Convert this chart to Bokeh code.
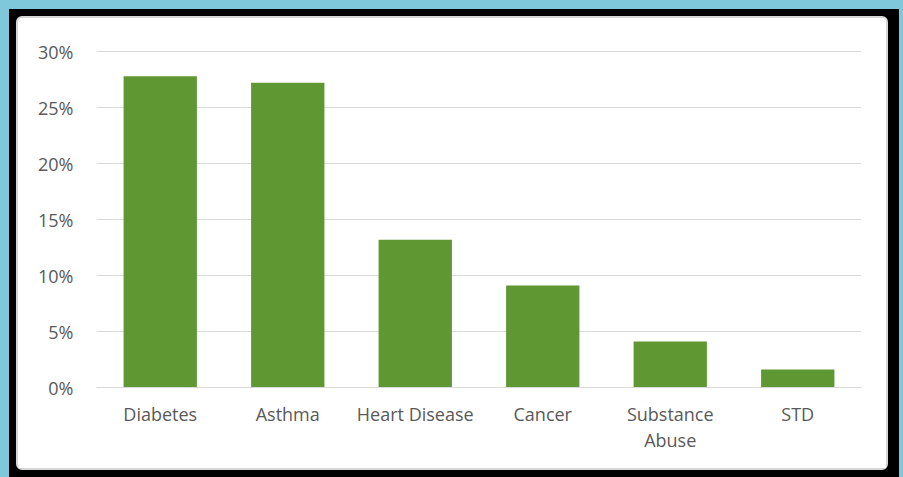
from bokeh.plotting import figure
from bokeh.layouts import column
from bokeh.models import FactorRange, Range1d, FixedTicker, NumeralTickFormatter, ColumnDataSource
from bokeh.embed import file_html
from bokeh.resources import INLINE

conditions = ["Diabetes", "Asthma", "Heart Disease", "Cancer", "Substance\nAbuse", "STD"]
shares = [0.278, 0.272, 0.132, 0.091, 0.041, 0.016]
y_ticks = [0, 0.05, 0.10, 0.15, 0.20, 0.25, 0.30]

FONT = "Open Sans"
TEXT = "#595959"
GRID = "#d9d9d9"
BAR = "#5f9733"

src = ColumnDataSource(dict(cond=conditions, share=shares))

p = figure(
    x_range=FactorRange(*conditions),
    y_range=Range1d(0, 0.3009),
    width=868, height=450,
    min_border_left=78, min_border_right=25,
    min_border_top=32, min_border_bottom=81,
    output_backend="svg", toolbar_location=None,
    background_fill_color="white", border_fill_color="white",
)
p.outline_line_color = None
p.outline_line_alpha = 0

p.vbar(x="cond", top="share", width=0.575, source=src,
       fill_color=BAR, line_color=None)

p.xgrid.grid_line_color = None
p.ygrid.grid_line_color = GRID
p.ygrid.grid_line_width = 1

p.yaxis.ticker = FixedTicker(ticks=y_ticks)
p.yaxis.formatter = NumeralTickFormatter(format="0%")
p.yaxis.axis_line_color = None
p.yaxis.major_tick_line_color = None
p.yaxis.minor_tick_line_color = None
p.yaxis.major_label_standoff = 17

p.xaxis.axis_line_color = GRID
p.xaxis.major_tick_line_color = None
p.xaxis.major_label_standoff = 8

for ax in (p.xaxis, p.yaxis):
    ax.major_label_text_font = FONT
    ax.major_label_text_font_size = "18px"
    ax.major_label_text_color = TEXT
    ax.major_label_text_line_height = 1.1

# white chart card with a soft grey rounded edge
card = column(p, styles={"background-color": "white",
                         "border": "2px solid #d6d6d6",
                         "border-radius": "6px"})
framed = column(card, styles={"background-color": "#000000",
                              "padding": "7px 11px 7px 7px"})
page = column(framed, width=903, height=477,
              styles={"background-color": "#7fc8dc",
                      "padding": "9px 4px 0px 9px",
                      "overflow": "hidden"})

open("out.html", "w").write(file_html(page, INLINE))
